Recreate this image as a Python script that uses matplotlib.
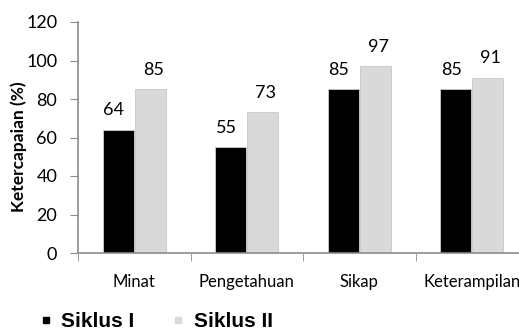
import numpy as np
import matplotlib.pyplot as plt
from matplotlib.lines import Line2D

categories = ['Minat', 'Pengetahuan', 'Sikap', 'Keterampilan']
siklus_1 = [64, 55, 85, 85]
siklus_2 = [85, 73, 97, 91]
series_names = ['Siklus I', 'Siklus II']

axis_col = '#8c8c8c'
gray = '#d9d9d9'

fig = plt.figure(figsize=(5.19, 3.31), dpi=100)
ax = fig.add_axes([78 / 519, 78 / 331, 450 / 519, 231 / 331])

x = np.arange(len(categories))
w = 0.275
ax.bar(x - w / 2 - 0.005, siklus_1, w, color='black', edgecolor='#d0d0d0', linewidth=0.6)
ax.bar(x + w / 2 + 0.005, siklus_2, w, color=gray, edgecolor='#c8c8c8', linewidth=0.6)

# angka di atas batang
for i in range(len(categories)):
    ax.text(x[i] - w / 2 - 0.045, siklus_1[i] + 6, str(siklus_1[i]), ha='center', va='bottom',
            fontsize=13, family='Lato')
    ax.text(x[i] + w / 2 + 0.03, siklus_2[i] + 6, str(siklus_2[i]), ha='center', va='bottom',
            fontsize=13, family='Lato')

ax.set_xlim(-0.5, 3.5)
ax.set_ylim(0, 120)
ax.set_yticks(range(0, 121, 20))
ax.set_xticks(x)
ax.set_xticklabels(categories)
ax.set_xticks(np.arange(-0.5, 4, 1), minor=True)
ax.tick_params(axis='x', which='major', length=0, pad=15)
ax.tick_params(axis='x', which='minor', length=6, color=axis_col, direction='out')
ax.tick_params(axis='y', length=6, color=axis_col, pad=9)
for lbl in ax.get_xticklabels():
    lbl.set_family('Lato')
    lbl.set_fontsize(12)
for lbl in ax.get_yticklabels():
    lbl.set_family('Lato')
    lbl.set_fontsize(13)

for s in ['top', 'right']:
    ax.spines[s].set_visible(False)
for s in ['left', 'bottom']:
    ax.spines[s].set_color(axis_col)
    ax.spines[s].set_linewidth(1.2)

ax.set_ylabel('Ketercapaian (%)', fontsize=12.5, fontweight='bold', family='Lato')
ax.yaxis.set_label_coords(-0.113, 0.461)

handles = [Line2D([], [], ls='none', marker='s', markersize=5, color='black'),
           Line2D([], [], ls='none', marker='s', markersize=5, color=gray)]
fig.legend(handles, series_names, loc='lower left', bbox_to_anchor=(0.043, -0.058), ncol=2,
           frameon=False, handlelength=0.5, handletextpad=0.48, columnspacing=1.85,
           prop={'family': 'Liberation Sans', 'weight': 'bold', 'size': 15})

fig.savefig('out.png', dpi=100)
